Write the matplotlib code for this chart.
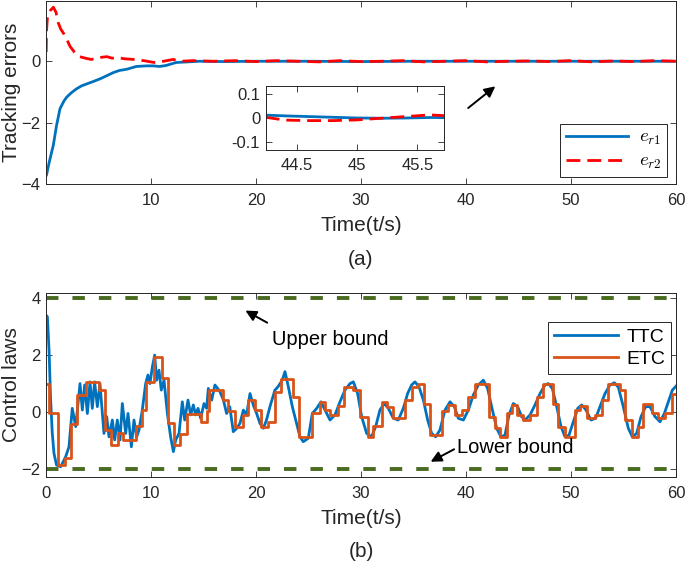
import numpy as np
import matplotlib
matplotlib.use('Agg')
import matplotlib.pyplot as plt

plt.rcParams['font.family'] = ['Liberation Sans', 'DejaVu Sans']
plt.rcParams['mathtext.fontset'] = 'cm'

# ---------------- data ----------------
# (a) tracking errors
er1_t = [0.05, 0.3, 0.7, 1.0, 1.33, 1.7, 1.97, 2.4, 2.9, 3.4, 3.87, 4.5, 5.1, 5.8, 6.4,
         7.0, 7.7, 8.6, 9.6, 10.2, 10.8, 11.4, 12.4, 13.5, 14.6, 17, 20, 25, 30, 35, 40,
         45, 50, 55, 60]
er1_v = [-3.7, -3.3, -2.73, -2.1, -1.55, -1.3, -1.17, -1.03, -0.9, -0.8, -0.74, -0.66,
         -0.58, -0.47, -0.37, -0.3, -0.26, -0.17, -0.15, -0.15, -0.17, -0.14, -0.04, -0.02,
         0.0, -0.01, 0.0, 0.0, -0.01, 0.0, 0.0, 0.0, 0.0, 0.0, 0.0]

er2_t = [0.02, 0.05, 0.15, 0.4, 0.7, 0.95, 1.17, 1.4, 1.65, 2.0, 2.28, 2.7, 3.2, 3.87, 4.3,
         4.85, 5.3, 5.8, 6.3, 6.75, 7.5, 8.35, 9.3, 10.3, 11.2, 12.1, 12.8, 14, 16, 18, 20,
         22, 24, 26, 28, 30, 32, 34, 36, 38, 40, 42, 44, 46, 48, 50, 52, 54, 56, 58, 60]
er2_v = [0.3, 1.0, 1.5, 1.65, 1.76, 1.6, 1.25, 1.05, 0.92, 0.7, 0.49, 0.3, 0.15, 0.09, 0.06,
         0.09, 0.13, 0.15, 0.1, 0.12, 0.08, 0.06, 0.02, -0.04, 0.0, 0.06, 0.0, 0.02, 0.0,
         0.02, -0.01, 0.02, 0.0, -0.02, 0.02, -0.01, 0.0, 0.02, -0.02, 0.0, 0.02, -0.02, 0.0,
         0.01, -0.01, 0.02, -0.02, 0.01, -0.01, 0.02, 0.0]

# inset (zoom of 44.24 .. 45.72 s)
ins_t = [44.24, 44.4, 44.6, 44.8, 45.0, 45.2, 45.4, 45.6, 45.72]
ins_er1 = [0.012, 0.009, 0.006, 0.003, 0.0, -0.001, 0.0, 0.002, 0.002]
ins_er2 = [0.003, -0.009, -0.011, -0.011, -0.008, -0.001, 0.006, 0.013, 0.01]

# (b) control laws
ttc_t = [0, 0.13, 0.29, 0.44, 0.6, 0.76, 1.0, 1.4, 1.87, 2.19, 2.5, 2.83, 3.24, 3.46, 3.68,
         3.94, 4.19, 4.41, 4.63, 4.89, 5.14, 5.52, 5.78, 6.0, 6.32, 6.54, 6.79, 7.05, 7.27,
         7.59, 7.81, 8.13, 8.38, 8.63, 8.86, 9.17, 9.49, 9.71, 9.9, 10.13, 10.35, 10.54,
         10.76, 10.98, 11.24, 11.56, 11.87, 12.13, 12.35, 12.67, 12.98, 13.21, 13.52, 13.78,
         14.03, 14.25, 14.48, 14.73, 15.05, 15.3,
         15.46, 15.78, 16.09, 16.35, 16.57, 16.9, 17.2, 17.5, 17.84, 18.16, 18.47, 18.8,
         19.1, 19.43, 19.74, 20.06, 20.38, 20.7, 21.0, 21.33, 21.8, 22.1, 22.5, 22.76, 23.08,
         23.46, 23.87, 24.19, 24.5, 24.98, 25.36, 25.78, 26.19, 26.57, 27.05, 27.52, 28.0,
         28.47, 28.95, 29.27, 29.68, 30.06, 30.54, 31.0, 31.4, 31.8, 32.22, 32.6, 33.08,
         33.55, 34.03, 34.44, 34.82, 35.14, 35.52, 35.94, 36.35, 36.73, 37.11, 37.52, 38.0,
         38.48, 38.89, 39.27, 39.75, 40.22, 40.7, 41.17, 41.65, 42.06, 42.44, 42.92, 43.33,
         43.71, 44.1, 44.51, 44.92, 45.3, 45.62, 46.1, 46.57, 47.05, 47.52, 47.84, 48.22,
         48.64, 49.05, 49.43, 49.81, 50.22, 50.64, 51.02, 51.43, 51.9, 52.35, 52.76, 53.24,
         53.71, 54.13, 54.51, 54.98, 55.46, 55.84, 56.25, 56.67, 57.11, 57.52, 58.0, 58.48,
         58.89, 59.27, 59.65, 60.0]
ttc_v = [3.4, 3.35, 2.17, 0.42, -0.75, -1.45, -1.86, -1.92, -1.57, -1.22, 0.13, -0.51, 1.0,
         0.07, 0.95, -0.05, 1.06, 0.13, 1.06, 0.19, 1.0, -0.75, -0.16, -0.87, -0.28, -0.98,
         -0.28, -0.98, 0.3, -0.75, -0.05, -1.22, -0.28, -0.87, -0.63, 0.07, 1.0, 1.3, 1.0,
         1.59, 2.0, 1.12, 1.47, 0.77, 1.12, -0.05, -0.87, -1.39, -0.98, -0.75, 0.36, -0.28,
         0.42, -0.1, 0.25, -0.1, 0.13, -0.22, 0.3, 0.13,
         0.83, 0.42, 0.95, 0.83, 0.71, 0.42, -0.05, 0.19, -0.69, -0.57, -0.4, 0.07, -0.1,
         0.65, 0.25, -0.05, -0.4, -0.57, -0.28, 0.19, 0.77, 0.89, 1.12, 1.42, 0.89, 0.19,
         -0.4, -0.87, -1.04, -0.92, -0.05, 0.13, 0.36, 0.07, -0.28, -0.1, 0.36, 0.77, 1.0,
         1.06, 0.65, -0.16, -0.75, -0.87, -0.51, 0.07, 0.3, 0.13, -0.22, -0.28, 0.13, 0.65,
         0.95, 1.06, 0.89, 0.42, -0.28, -0.75, -0.87, -0.63, 0.07, 0.36, 0.19, -0.22, -0.28,
         0.07, 0.6, 0.95, 1.12, 0.83, 0.19, -0.57, -0.87, -0.81, -0.1, 0.3, 0.19, -0.16,
         -0.28, -0.1, 0.25, 0.65, 0.95, 1.0, 0.83, 0.19, -0.51, -0.87, -0.81, -0.34, 0.13,
         0.25, 0.07, -0.28, -0.22, 0.19, 0.65, 0.95, 1.03, 0.87, 0.19, -0.57, -0.87, -0.75,
         -0.16, 0.19, 0.19, -0.16, -0.34, -0.05, 0.36, 0.77, 0.91]

etc_t = [0, 0.3, 1.14, 1.78, 2.35, 2.98, 3.85, 5.08, 5.6, 6.2, 6.85, 7.35, 8.58, 9.1, 9.55,
         10.33, 11.0, 11.6, 12.15, 12.76, 13.4, 14.73, 15.37, 15.55, 16.89, 17.36, 17.99,
         18.79, 19.27, 19.9, 20.47, 21.17, 21.8, 22.38, 23.55, 24.09, 25.36, 26.09, 26.57,
         27.05, 27.8, 28.4, 29.27, 29.9, 30.63, 31.17, 31.97, 32.44, 33.08, 34.19, 34.82,
         35.46, 36.03, 36.57, 37.75, 38.32, 38.95, 39.65, 40.22, 40.86, 41.33, 42.19, 42.76,
         43.24, 43.87, 44.35, 44.83, 45.46, 46.1, 46.73, 47.37, 48.32, 48.8, 49.43, 50.38,
         50.86, 51.49, 52.29, 52.92, 53.56, 54.67, 55.14, 55.78, 56.41, 56.89, 57.68, 58.32,
         58.95, 59.59, 60]
etc_v = [1.0, -0.05, -1.86, -1.62, -0.42, 0.6, 1.06, 0.77, -0.63, -1.15, -0.73, -0.97, -0.5,
         0.08, 1.06, 1.93, 1.2, -0.38, -1.15, -0.78, -0.07, -0.34, 0.05, 0.77, 0.42, 0.05,
         -0.51, -0.1, 0.44, 0.07, -0.51, -0.34, 0.71, 1.15, 0.54, -0.89, -0.05, 0.36, 0.07,
         -0.1, 0.2, 0.87, 0.77, -0.16, -0.87, -0.49, 0.36, 0.19, -0.22, 0.42, 0.87, 0.97,
         0.3, -0.81, 0.03, 0.25, -0.1, 0.07, 0.54, 0.97, 1.0, -0.16, -0.57, -0.87, -0.05,
         0.25, -0.1, -0.28, -0.1, 0.54, 1.0, 0.3, -0.51, -0.87, 0.07, 0.21, -0.22, -0.1,
         0.42, 1.0, 0.77, -0.28, -0.87, -0.51, 0.28, -0.05, -0.22, -0.05, 0.65, 0.65]

upper_bound = 4
lower_bound = -2

top_xticks = [10, 20, 30, 40, 50, 60]
top_yticks = [-4, -2, 0]
bot_xticks = [0, 10, 20, 30, 40, 50, 60]
bot_yticks = [-2, 0, 2, 4]
ins_xticks = [44.5, 45, 45.5]
ins_yticks = [-0.1, 0, 0.1]

# ---------------- styling ----------------
BLUE = '#0072BD'
ORANGE = '#D95319'
RED = '#FF0000'
GREEN = '#4a6b21'
AXC = '#262626'

W, H = 685, 563
fig = plt.figure(figsize=(W / 100, H / 100), dpi=100)


def style(ax, ls=12, pad=6.5):
    for s in ax.spines.values():
        s.set_color(AXC)
        s.set_linewidth(0.7)
    ax.tick_params(direction='in', top=True, right=True, length=4, width=0.6,
                   colors=AXC, labelsize=ls, pad=pad)


YLAB_X = (21 - 46) / 630

ax1 = fig.add_axes([46 / W, 1 - 184 / H, 630 / W, 183.5 / H])
ax1.plot(er1_t, er1_v, color=BLUE, lw=2.0, label='$e_{r1}$')
ax1.plot(er2_t, er2_v, color=RED, lw=2.0, dashes=(5, 2.5), label='$e_{r2}$')
ax1.set_xlim(0, 60)
ax1.set_ylim(-4, 1.98)
ax1.set_xticks(top_xticks)
ax1.set_yticks(top_yticks)
style(ax1)
ax1.tick_params(axis='y', pad=4)
ax1.set_xlabel('Time(t/s)', fontsize=15, labelpad=6, color=AXC)
ax1.set_ylabel('Tracking errors', fontsize=15, color=AXC)
ax1.yaxis.set_label_coords(YLAB_X, 0.5)
leg1 = ax1.legend(loc='lower right', bbox_to_anchor=(0.986, 0.038), fontsize=13.5,
                  handlelength=3.3, fancybox=False, framealpha=1, edgecolor=AXC,
                  borderpad=0.3, labelspacing=0.3, handletextpad=0.6, borderaxespad=0)
leg1.get_frame().set_linewidth(0.7)
ax1.annotate('', xy=(43.0, -0.76), xytext=(40.0, -1.58),
             arrowprops=dict(arrowstyle='-|>', color='k', lw=1.4, mutation_scale=16))

axi = fig.add_axes([265.7 / W, 1 - 150 / H, 178.3 / W, 64 / H])
axi.plot(ins_t, ins_er1, color=BLUE, lw=2.0)
axi.plot(ins_t, ins_er2, color=RED, lw=2.0, dashes=(5, 2.5))
axi.set_xlim(44.24, 45.72)
axi.set_ylim(-0.135, 0.135)
axi.set_xticks(ins_xticks)
axi.set_xticklabels(['44.5', '45', '45.5'])
axi.set_yticks(ins_yticks)
axi.set_yticklabels(['-0.1', '0', '0.1'])
style(axi, ls=12, pad=6)
axi.tick_params(axis='y', pad=4)

fig.text(0.5 * (46 + 676) / W, 1 - 259.5 / H, '(a)', ha='center', va='center',
         fontsize=15, color=AXC)

ax2 = fig.add_axes([46 / W, 1 - 477 / H, 630 / W, 184 / H])
ax2.plot([0, 60], [upper_bound, upper_bound], color=GREEN, lw=2.8, dashes=(3.2, 3.6))
ax2.plot([0, 60], [lower_bound, lower_bound], color=GREEN, lw=2.8, dashes=(3.2, 3.6))
ax2.plot(ttc_t, ttc_v, color=BLUE, lw=2.0, label='TTC')
ax2.plot(etc_t, etc_v, color=ORANGE, lw=2.0, drawstyle='steps-post', label='ETC')
ax2.set_xlim(0, 60)
ax2.set_ylim(-2.28, 4.18)
ax2.set_xticks(bot_xticks)
ax2.set_yticks(bot_yticks)
style(ax2)
ax2.tick_params(axis='y', pad=4)
ax2.set_xlabel('Time(t/s)', fontsize=15, labelpad=6, color=AXC)
ax2.set_ylabel('Control laws', fontsize=15, color=AXC)
ax2.yaxis.set_label_coords(YLAB_X, 0.5)
leg2 = ax2.legend(loc='upper right', bbox_to_anchor=(0.992, 0.842), fontsize=14,
                  handlelength=3.3, fancybox=False, framealpha=1, edgecolor=AXC,
                  borderpad=0.3, labelspacing=0.25, handletextpad=0.4, borderaxespad=0)
leg2.get_frame().set_linewidth(0.7)
ax2.annotate('', xy=(18.76, 3.61), xytext=(21.3, 3.09),
             arrowprops=dict(arrowstyle='-|>', color='k', lw=1.4, mutation_scale=16))
ax2.text(21.5, 2.53, 'Upper bound', fontsize=14.5, ha='left', va='center', color='k')
ax2.annotate('', xy=(36.4, -1.79), xytext=(39.1, -1.26),
             arrowprops=dict(arrowstyle='-|>', color='k', lw=1.4, mutation_scale=16))
ax2.text(39.1, -1.24, 'Lower bound', fontsize=14.5, ha='left', va='center', color='k')

fig.text(0.5 * (46 + 676) / W, 1 - 551.5 / H, '(b)', ha='center', va='center',
         fontsize=15, color=AXC)

fig.savefig('out.png', dpi=100)
